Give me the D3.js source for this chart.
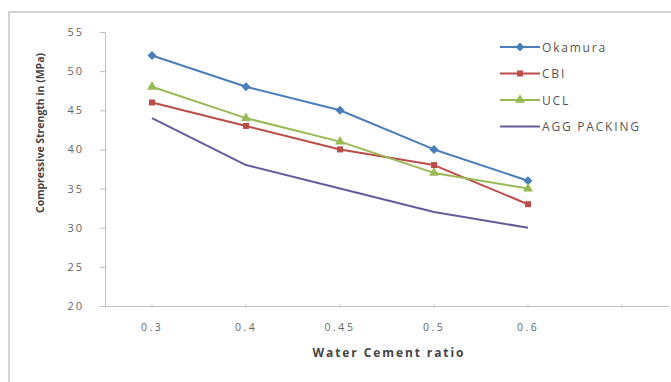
<!DOCTYPE html>
<html>
<head>
<meta charset="utf-8">
<script src="https://cdn.jsdelivr.net/npm/d3@7"></script>
<style>
  html, body { margin: 0; padding: 0; background: #fff; }
  svg { display: block; }
  text { font-family: "Open Sans", "Liberation Sans", Arial, sans-serif; }
</style>
</head>
<body>
<svg id="chart" width="671" height="382"></svg>
<script>
// Water/cement ratio categories and compressive strength (MPa) per mix design method
const categories = ["0.3", "0.4", "0.45", "0.5", "0.6"];
const okamura    = [52, 48, 45, 40, 36];
const cbi        = [46, 43, 40, 38, 33];
const ucl        = [48, 44, 41, 37, 35];
const aggPacking = [44, 38, 35, 32, 30];
const seriesNames = ["Okamura", "CBI", "UCL", "AGG PACKING"];
const yTicks = [20, 25, 30, 35, 40, 45, 50, 55];

const series = [
  { name: seriesNames[0], values: okamura,    color: "#4a7ebb", marker: "diamond" },
  { name: seriesNames[1], values: cbi,        color: "#be4b48", marker: "square" },
  { name: seriesNames[2], values: ucl,        color: "#98b954", marker: "triangle" },
  { name: seriesNames[3], values: aggPacking, color: "#675b9c", marker: null }
];

const svg = d3.select("#chart");

// outer chart frame
svg.append("rect")
  .attr("x", 9).attr("y", 12)
  .attr("width", 700).attr("height", 420)
  .attr("fill", "none").attr("stroke", "#c4c4c4").attr("stroke-width", 1.5);

const plotLeft = 105, plotRight = 669, plotTop = 32, plotBottom = 306;

// one empty slot after the last category keeps the axis running past 0.6
const x = d3.scaleBand()
  .domain([...categories, "_blank"])
  .range([plotLeft, plotRight])
  .paddingInner(0).paddingOuter(0);
const cx = c => x(c) + x.bandwidth() / 2;

const y = d3.scaleLinear().domain([20, 55]).range([plotBottom, plotTop]);

// y axis
const yAxis = svg.append("g")
  .attr("transform", `translate(${plotLeft},0)`)
  .call(d3.axisLeft(y).tickValues(yTicks).tickSize(5).tickPadding(16));
yAxis.select(".domain").attr("stroke", "#c0c0c0");
yAxis.selectAll(".tick line").attr("stroke", "#c0c0c0");
yAxis.selectAll(".tick text")
  .attr("fill", "#666").attr("font-size", "11px")
  .attr("letter-spacing", "2px");

// x axis
const xAxis = svg.append("g")
  .attr("transform", `translate(0,${plotBottom})`)
  .call(d3.axisBottom(x).tickSize(0).tickFormat(d => d === "_blank" ? "" : d));
xAxis.select(".domain").attr("stroke", "#c0c0c0");
xAxis.selectAll(".tick line").remove();
xAxis.selectAll(".tick")
  .attr("transform", d => `translate(${cx(d)},0)`);
xAxis.selectAll(".tick").append("line")
  .attr("y1", -2).attr("y2", 2).attr("stroke", "#d0d0d0");
xAxis.selectAll(".tick text")
  .attr("y", 25).attr("dy", 0)
  .attr("fill", "#666").attr("font-size", "10.5px")
  .attr("letter-spacing", "2.5px");

// axis titles
svg.append("text")
  .attr("x", 388).attr("y", 357)
  .attr("text-anchor", "middle")
  .attr("font-size", "12px").attr("font-weight", "bold").attr("fill", "#444")
  .attr("textLength", 151).attr("lengthAdjust", "spacing")
  .text("Water Cement ratio");

svg.append("text")
  .attr("transform", "translate(44,133) rotate(-90)")
  .attr("text-anchor", "middle")
  .attr("font-size", "10px").attr("font-weight", "bold").attr("fill", "#444")
  .attr("textLength", 160).attr("lengthAdjust", "spacingAndGlyphs")
  .text("Compressive Strength in (MPa)");

// marker shapes (diamond = square turned 45°)
const symbolFor = {
  diamond: d3.symbol().type(d3.symbolSquare).size(40),
  square: d3.symbol().type(d3.symbolSquare).size(36),
  triangle: d3.symbol().type(d3.symbolTriangle).size(42)
};
const markerRotate = { diamond: 45, square: 0, triangle: 0 };

const line = d3.line()
  .x((d, i) => cx(categories[i]))
  .y(d => y(d));

series.forEach(s => {
  svg.append("path")
    .attr("d", line(s.values))
    .attr("fill", "none")
    .attr("stroke", s.color)
    .attr("stroke-width", 2)
    .attr("stroke-linejoin", "round");
  if (s.marker) {
    svg.append("g").selectAll("path")
      .data(s.values)
      .join("path")
      .attr("transform", (d, i) =>
        `translate(${cx(categories[i])},${y(d)}) rotate(${markerRotate[s.marker]})`)
      .attr("d", symbolFor[s.marker])
      .attr("fill", s.color);
  }
});

// legend
const legend = svg.append("g").attr("transform", "translate(500,47)");
series.forEach((s, i) => {
  const g = legend.append("g").attr("transform", `translate(0,${i * 26.5})`);
  g.append("line")
    .attr("x1", 0).attr("x2", 40)
    .attr("stroke", s.color).attr("stroke-width", 2);
  if (s.marker) {
    g.append("path")
      .attr("transform", `translate(20,0) rotate(${markerRotate[s.marker]})`)
      .attr("d", symbolFor[s.marker])
      .attr("fill", s.color);
  }
  g.append("text")
    .attr("x", 42).attr("y", 4.5)
    .attr("font-size", "12px").attr("fill", "#555")
    .attr("letter-spacing", "1.8px")
    .text(s.name);
});
</script>
</body>
</html>
